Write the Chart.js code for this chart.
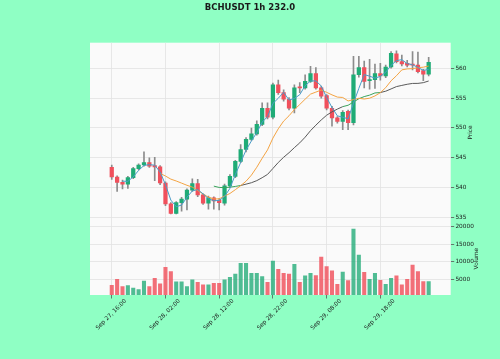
<!DOCTYPE html>
<html><head><meta charset="utf-8">
<script src="https://cdn.jsdelivr.net/npm/chart.js@4.4.1/dist/chart.umd.min.js"></script>
<style>html,body{margin:0;padding:0;background:#8fffc4;} canvas{display:block;}</style>
</head><body>
<canvas id="c" width="500" height="359"></canvas>
<script>
const chartTitle = 'BCHUSDT 1h 232.0';
const timeLabels = ['Sep 27, 16:00','Sep 28, 02:00','Sep 28, 12:00','Sep 28, 22:00','Sep 29, 08:00','Sep 29, 18:00'];
const timeTickIndex = [0,10,20,30,40,50];
const priceTicks = [535,540,545,550,555,560];
const volumeTicks = [5000,10000,15000,20000];

const opens = [543.4,541.8,540.9,540.6,541.7,543.2,543.8,544.2,543.7,543.5,540.8,537.3,535.7,537.5,538.1,539.6,540.7,538.8,537.4,538.3,537.9,537.4,540.3,541.9,544.4,546.4,548.1,549.0,550.6,553.3,551.8,557.2,555.9,554.8,553.3,556.9,556.7,557.8,559.1,556.7,555.4,553.3,551.7,551.1,552.8,550.9,558.9,560.1,557.9,558.1,559.1,558.7,560.2,562.4,561.1,560.8,560.6,560.5,559.6,559.0];
const highs = [543.8,542.0,541.3,541.9,543.4,544.0,546.0,545.0,545.1,543.7,541.0,537.5,537.7,538.4,539.8,541.5,541.4,539.0,538.6,538.5,538.2,540.6,542.2,544.6,547.2,548.4,550.0,551.2,554.2,554.2,557.5,558.0,556.4,555.1,557.2,557.6,558.9,560.3,560.1,557.0,555.6,553.6,551.9,552.9,553.0,562.0,562.0,561.2,561.5,560.7,560.8,560.5,562.8,562.9,562.2,561.3,562.8,562.7,559.8,561.8];
const lows = [541.4,539.4,539.8,539.9,541.5,543.0,543.6,543.4,541.2,540.5,537.0,535.6,535.6,536.1,536.3,539.4,538.5,537.2,536.4,536.4,536.3,537.1,540.0,541.7,544.2,546.0,547.9,548.8,550.4,551.5,551.5,555.6,554.5,553.0,552.5,555.9,556.5,557.6,556.5,555.0,553.0,550.3,550.8,549.7,549.7,550.5,558.5,556.7,556.5,556.6,558.0,558.4,560.0,560.9,560.4,560.2,559.7,559.2,557.9,558.7];
const closes = [541.8,540.9,540.6,541.7,543.2,543.8,544.2,543.6,543.5,540.8,537.3,535.7,537.5,538.1,539.6,540.7,538.8,537.4,538.3,537.8,537.5,540.3,541.9,544.4,546.4,548.1,549.0,550.6,553.3,551.8,557.2,555.9,554.8,553.3,556.7,556.7,557.8,559.1,556.7,555.3,553.3,551.7,551.1,552.6,550.9,558.9,560.1,557.8,558.1,559.1,558.7,560.2,562.5,561.1,560.7,560.5,560.5,559.4,559.0,561.0];
const volumes = [3420,5110,3020,3310,2650,2190,4630,3020,5390,3790,8500,7260,4350,4350,3020,4920,4260,3500,3500,3980,3980,4920,5680,6610,9630,9630,6800,6800,5850,4260,10280,7930,6800,6610,9350,4260,6050,6800,6140,11410,8680,7460,3700,7170,4730,19320,11980,7090,5110,6800,4830,3700,5390,6050,3500,5110,9150,7260,4440,4440];
const ma3 = [null,null,541.10,541.07,541.83,542.90,543.73,543.87,543.77,542.63,540.53,537.93,536.83,537.10,538.40,539.47,539.70,538.97,538.17,537.83,537.87,538.53,539.90,542.20,544.23,546.30,547.83,549.23,550.97,551.90,554.10,554.97,555.97,554.67,554.93,555.57,557.07,557.87,557.87,557.03,555.10,553.43,552.03,551.80,551.53,554.13,556.63,558.93,558.67,558.33,558.63,559.33,560.47,561.27,561.43,560.77,560.57,560.13,559.63,559.80];
const ma10 = [null,null,null,null,null,null,null,null,null,542.41,541.96,541.44,541.13,540.77,540.41,540.10,539.56,538.94,538.42,538.12,538.14,538.60,539.04,539.67,540.35,541.09,542.11,543.43,544.93,546.33,548.30,549.86,551.15,552.04,553.07,553.93,554.81,555.66,556.00,556.35,555.96,555.54,555.17,555.10,554.52,554.74,554.97,554.84,554.98,555.36,555.90,556.75,557.89,558.74,559.72,559.88,559.92,560.08,560.17,560.36];
const ma20 = [null,null,null,null,null,null,null,null,null,null,null,null,null,null,null,null,null,null,null,540.27,540.05,540.02,540.09,540.22,540.38,540.60,540.84,541.19,541.68,542.23,543.22,544.23,545.10,545.86,546.71,547.51,548.46,549.55,550.47,551.34,552.13,552.70,553.16,553.57,553.80,554.34,554.89,555.25,555.49,555.86,555.93,556.15,556.53,556.92,557.12,557.31,557.45,557.46,557.58,557.86];

// styling
const UP = '#1fab76', DOWN = '#f0505c';
const VUP = 'rgba(31,171,118,0.78)', VDOWN = 'rgba(240,80,92,0.82)';
const GRID = '#e2e2e2';
const greenSpans = [[19,24],[43,50]];
const FONT = '"DejaVu Sans", sans-serif';

const idx = closes.map((_, i) => i);
const isUp = i => closes[i] >= opens[i];
const pts = arr => arr.map((v, i) => ({x: i, y: v}));
const pLo = Math.min(...lows), pHi = Math.max(...highs);
const pPad = (pHi - pLo) * 0.05;

const decor = {
  id: 'decor',
  beforeDraw(chart) {
    const {ctx, chartArea: a} = chart;
    ctx.save();
    ctx.fillStyle = '#fafafa';
    ctx.fillRect(a.left, a.top, a.right - a.left, a.bottom - a.top);
    ctx.restore();
  },
  afterDraw(chart) {
    const {ctx} = chart;
    const xs = chart.scales.x;
    ctx.save();
    ctx.fillStyle = '#1a1a1a';
    ctx.textAlign = 'center';
    ctx.textBaseline = 'middle';
    ctx.font = 'bold 8.5px ' + FONT;
    ctx.fillText(chartTitle, 250, 7.5);
    ctx.font = '5.8px ' + FONT;
    timeTickIndex.forEach((v, k) => {
      const px = xs.getPixelForValue(v);
      ctx.save();
      ctx.translate(px - 0.5, 314.5);
      ctx.rotate(-Math.PI / 4);
      ctx.fillText(timeLabels[k], 0, 0);
      ctx.restore();
    });
    const yP = chart.scales.y, yV = chart.scales.yv;
    [['Price', 470.6, (yP.top + yP.bottom) / 2], ['Volume', 476.6, (yV.top + yV.bottom) / 2]].forEach(([t, x, y]) => {
      ctx.save();
      ctx.translate(x, y);
      ctx.rotate(-Math.PI / 2);
      ctx.fillText(t, 0, 0);
      ctx.restore();
    });
    ctx.restore();
  }
};

const lineDs = (data, color, order, extra) => Object.assign({
  type: 'line', data: pts(data), yAxisID: 'y', borderColor: color, borderWidth: 1,
  pointRadius: 0, spanGaps: false, order: order
}, extra || {});

new Chart(document.getElementById('c'), {
  type: 'bar',
  data: {
    datasets: [
      lineDs(ma3, '#4a9cc8', 0),
      lineDs(ma10, '#f4a443', 1),
      lineDs(ma20, '#5a5a5a', 2, {
        segment: {
          borderColor: c => greenSpans.some(([a, b]) => c.p0DataIndex >= a && c.p1DataIndex <= b) ? '#3aa45c' : '#5a5a5a'
        }
      }),
      {
        type: 'bar', data: idx.map(i => ({x: i, y: [opens[i], closes[i]]})), yAxisID: 'y',
        backgroundColor: idx.map(i => isUp(i) ? UP : DOWN), barThickness: 3.6, grouped: false,
        minBarLength: 1, borderWidth: 0, order: 3
      },
      {
        type: 'bar', data: idx.map(i => ({x: i, y: [lows[i], highs[i]]})), yAxisID: 'y',
        backgroundColor: '#8c8c8c', barThickness: 1, grouped: false, borderWidth: 0, order: 4
      },
      {
        type: 'bar', data: idx.map(i => ({x: i, y: volumes[i]})), yAxisID: 'yv',
        backgroundColor: idx.map(i => isUp(i) ? VUP : VDOWN), barThickness: 3.4, grouped: false,
        borderWidth: 0, order: 5
      }
    ]
  },
  options: {
    responsive: false, animation: false, devicePixelRatio: 1,
    layout: {padding: {top: 42.7, left: 90, right: 0, bottom: 0}},
    plugins: {legend: {display: false}, tooltip: {enabled: false}, title: {display: false}},
    scales: {
      x: {
        type: 'linear', min: -4.05, max: 63.1, offset: false,
        afterBuildTicks: s => { s.ticks = timeTickIndex.map(v => ({value: v})); },
        afterFit: s => { s.height = 64; },
        grid: {color: GRID, lineWidth: 0.8, drawTicks: true, tickLength: 3.5, tickColor: '#555', offset: false},
        border: {display: false},
        ticks: {display: false}
      },
      y: {
        type: 'linear', position: 'right', stack: 'panels', stackWeight: 179.5,
        min: pLo - pPad, max: pHi + pPad,
        afterBuildTicks: s => { s.ticks = priceTicks.map(v => ({value: v})); },
        afterFit: s => { s.width = 49.3; },
        grid: {color: GRID, lineWidth: 0.8, tickLength: 3.5, tickColor: '#555'},
        border: {display: false},
        ticks: {color: '#1a1a1a', font: {family: FONT, size: 5.8}, padding: 1.2, callback: v => String(v)}
      },
      yv: {
        type: 'linear', position: 'right', stack: 'panels', stackWeight: 72.8,
        min: 0.3 * Math.min(...volumes), max: 1.1 * Math.max(...volumes),
        afterBuildTicks: s => { s.ticks = volumeTicks.map(v => ({value: v})); },
        afterFit: s => { s.width = 49.3; },
        grid: {color: GRID, lineWidth: 0.8, tickLength: 3.5, tickColor: '#555'},
        border: {display: false},
        ticks: {color: '#1a1a1a', font: {family: FONT, size: 5.8}, padding: 1.2, callback: v => String(v)}
      }
    }
  },
  plugins: [decor]
});
</script>
</body></html>
